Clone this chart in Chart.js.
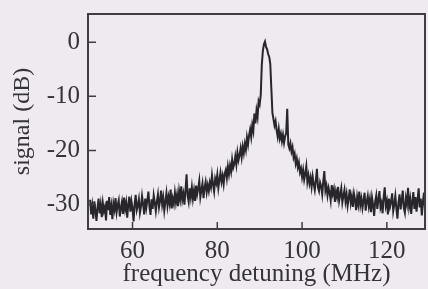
<!DOCTYPE html>
<html>
<head>
<meta charset="utf-8">
<script src="https://cdn.jsdelivr.net/npm/chart.js@4"></script>
<style>
    html, body { margin: 0; padding: 0; background: #eeeaf0; }
    #wrap { width: 428px; height: 289px; }
</style>
</head>
<body>
<div id="wrap"><canvas id="__chart_signal"></canvas></div>
<script>

/**
 * chart data (trace sampled every 0.25 MHz from 50 MHz)
 */

const freqStart = 50;
const freqStep = 0.25;

const signal = [
    -29.1, -31.8, -30.2, -32.6, -29.4, -31.1, -33.0, -30.5, -28.9, -31.6, -30.0, -32.3, -29.7, -31.2, -30.4, -32.9,
    -29.3, -31.0, -28.6, -31.9, -30.3, -32.7, -29.8, -30.9, -28.8, -31.4, -30.1, -29.2, -32.2, -30.6, -29.5, -31.7,
    -28.7, -30.8, -29.6, -32.4, -30.0, -28.5, -31.3, -29.4, -30.7, -33.1, -29.9, -28.2, -31.0, -30.2, -29.0, -31.5,
    -30.3, -28.4, -29.9, -31.8, -28.9, -30.6, -29.2, -27.6, -30.4, -31.9, -29.0, -30.8, -28.3, -29.6, -31.2, -29.4,
    -28.1, -30.5, -29.3, -27.4, -30.0, -28.7, -31.1, -29.5, -27.9, -30.2, -28.6, -29.8, -27.2, -30.7, -28.9, -29.9,
    -27.8, -29.6, -28.2, -30.3, -27.5, -28.9, -26.6, -29.1, -28.0, -30.0, -27.3, -24.4, -28.4, -29.5, -27.0, -28.6,
    -26.8, -28.9, -27.4, -29.3, -26.5, -28.1, -27.0, -25.6, -28.6, -27.3, -26.1, -28.8, -26.9, -25.8, -27.7, -26.4,
    -27.5, -25.9, -26.8, -24.6, -26.3, -27.6, -25.2, -26.0, -24.5, -26.9, -25.4, -24.1, -25.8, -24.7, -26.2, -24.3,
    -23.6, -25.1, -23.0, -24.4, -22.8, -23.9, -21.7, -23.2, -22.5, -21.1, -22.6, -20.4, -21.8, -20.9, -19.6, -21.2,
    -19.3, -20.5, -18.8, -19.9, -17.6, -18.9, -17.2, -16.1, -17.5, -15.3, -16.4, -13.2, -15.0, -12.6, -13.8, -10.9,
    -11.5, -9.8, -4.2, -1.6, -0.4, 0.1, -0.9, -1.3, -2.2, -2.7, -4.0, -8.5, -13.0, -14.2, -15.4, -14.6,
    -16.3, -17.5, -16.0, -17.8, -16.9, -18.3, -17.1, -18.6, -17.4, -16.8, -12.3, -18.9, -19.6, -18.7, -20.2, -19.4,
    -21.3, -20.6, -22.4, -21.5, -23.1, -22.2, -24.0, -23.3, -24.9, -23.6, -25.4, -24.3, -22.9, -25.8, -24.6, -26.1,
    -25.0, -26.7, -24.8, -26.2, -27.3, -25.5, -23.4, -26.8, -27.5, -25.9, -26.6, -28.1, -25.7, -23.8, -27.4, -26.5,
    -28.3, -26.9, -27.8, -29.2, -26.4, -28.0, -27.1, -29.5, -27.6, -28.6, -26.7, -29.3, -28.2, -27.0, -29.6, -28.4,
    -27.3, -29.4, -28.1, -30.2, -28.8, -27.2, -29.7, -28.5, -30.4, -28.0, -29.1, -31.0, -28.6, -29.9, -27.6, -30.1,
    -28.9, -30.6, -29.2, -27.8, -31.1, -29.5, -28.4, -30.3, -29.0, -31.4, -28.7, -30.0, -32.1, -29.4, -28.3, -30.8,
    -29.1, -27.5, -30.5, -29.7, -31.6, -28.6, -26.8, -30.2, -29.3, -31.8, -28.9, -30.4, -29.5, -27.9, -31.2, -30.0,
    -28.4, -30.7, -32.6, -29.6, -28.1, -30.9, -29.2, -27.4, -30.6, -31.5, -28.8, -29.9, -26.9, -30.3, -29.0, -31.7,
    -29.4, -27.7, -30.8, -28.6, -31.3, -29.1, -27.0, -30.5, -28.9, -32.0, -29.6, -27.8, -30.7, -29.2, -31.1, -28.5
];

const xTicks = [ 60, 80, 100, 120 ];
const yTicks = [ 0, -10, -20, -30 ];

const xTitle = 'frequency detuning (MHz)';
const yTitle = 'signal (dB)';

/**
 * build points
 */

let points = signal.map( ( v, i ) => ( { x: freqStart + i * freqStep, y: v } ) );

const ink = '#363338';
const serif = 'Liberation Serif, Times New Roman, serif';

/**
 * frame and inward tick marks
 */

const framePlugin = {
    id: 'frame',
    afterDraw( chart ) {

        let ctx = chart.ctx;
        let a = chart.chartArea;
        let xs = chart.scales.x;
        let ys = chart.scales.y;

        ctx.save();
        ctx.strokeStyle = '#403d42';
        ctx.lineWidth = 2;
        ctx.strokeRect( a.left, a.top, a.right - a.left, a.bottom - a.top );

        ctx.lineWidth = 1.5;
        ctx.beginPath();

        xTicks.forEach( t => {
            let px = xs.getPixelForValue( t );
            ctx.moveTo( px, a.bottom );
            ctx.lineTo( px, a.bottom - 7 );
        } );

        yTicks.forEach( t => {
            let py = ys.getPixelForValue( t );
            ctx.moveTo( a.left, py );
            ctx.lineTo( a.left + 8, py );
        } );

        ctx.stroke();
        ctx.restore();

    }
};

new Chart( document.getElementById( '__chart_signal' ), {
    type: 'line',
    data: {
        datasets: [ {
            data: points,
            borderColor: '#29262b',
            borderWidth: 2,
            pointRadius: 0,
            tension: 0
        } ]
    },
    options: {
        responsive: true,
        maintainAspectRatio: false,
        animation: false,
        layout: {
            padding: { top: 14, right: 3, left: 0, bottom: 0 }
        },
        plugins: {
            legend: { display: false },
            tooltip: { enabled: false }
        },
        scales: {
            x: {
                type: 'linear',
                min: 49.5,
                max: 129,
                afterBuildTicks: s => { s.ticks = xTicks.map( v => ( { value: v } ) ); },
                afterFit: s => {
                    s.height = 60;
                    s.paddingLeft = 0;
                    s.paddingRight = 0;
                },
                border: { display: false },
                grid: { display: false, drawTicks: false },
                ticks: {
                    padding: 7,
                    color: ink,
                    font: { family: serif, size: 25 }
                },
                title: {
                    display: true,
                    text: xTitle,
                    color: ink,
                    padding: { top: -6, bottom: 0 },
                    font: { family: serif, size: 25 }
                }
            },
            y: {
                min: -34.5,
                max: 5.2,
                afterBuildTicks: s => { s.ticks = yTicks.map( v => ( { value: v } ) ); },
                afterFit: s => {
                    s.width = 88;
                    s.paddingTop = 0;
                    s.paddingBottom = 0;
                },
                border: { display: false },
                grid: { display: false, drawTicks: false },
                ticks: {
                    padding: 8,
                    color: ink,
                    font: { family: serif, size: 25 }
                },
                title: {
                    display: true,
                    text: yTitle,
                    color: ink,
                    padding: { top: 8, bottom: 0 },
                    font: { family: serif, size: 24 }
                }
            }
        }
    },
    plugins: [ framePlugin ]
} );

</script>
</body>
</html>
